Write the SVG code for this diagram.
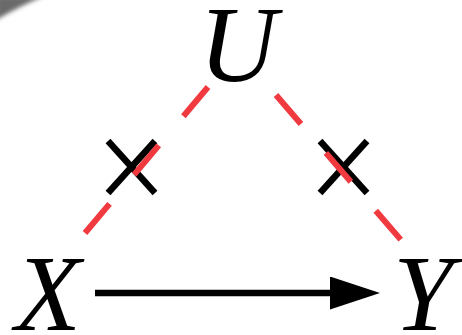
<svg xmlns="http://www.w3.org/2000/svg" width="462" height="335" viewBox="0 0 462 335">
<style>
.lbl{font-family:"Liberation Serif","Times New Roman",serif;font-style:italic;font-size:108px;fill:#000}
.conf{stroke:#f03a3f;stroke-width:6;stroke-dasharray:38.2 38.2;fill:none}
.cross{stroke:#000;stroke-width:6.5;fill:none}
.edge{stroke:#000;stroke-width:6.5;fill:none}
</style>
<defs>
<marker id="ah" markerUnits="userSpaceOnUse" markerWidth="52" markerHeight="36" refX="0" refY="16.5" orient="auto">
<path d="M0,0 L50,16.5 L0,33 Z" fill="#000"/>
</marker>
<filter id="bl"><feGaussianBlur stdDeviation="2"/></filter>
</defs>
<rect width="462" height="335" fill="#fff"/>
<path d="M-4,-4 L44,-4 Q20,6 -4,20 Z" fill="#6a6a6a" filter="url(#bl)"/>
<g id="connectors">
<line class="edge" x1="95" y1="293" x2="330" y2="293" marker-end="url(#ah)"/>
<g id="cross-left" class="cross">
<line x1="108" y1="141" x2="155" y2="193"/>
<line x1="155" y1="141" x2="108" y2="193"/>
</g>
<g id="cross-right" class="cross">
<line x1="320" y1="141" x2="367" y2="193"/>
<line x1="367" y1="141" x2="320" y2="193"/>
</g>
<line class="conf" x1="208" y1="87" x2="85" y2="233"/>
<line class="conf" x1="276" y1="95" x2="401" y2="240"/>
</g>
<g id="U"><text class="lbl" x="199" y="81">U</text></g>
<g id="X"><text class="lbl" x="15" y="330">X</text></g>
<g id="Y"><text class="lbl" x="393" y="330">Y</text></g>
</svg>
